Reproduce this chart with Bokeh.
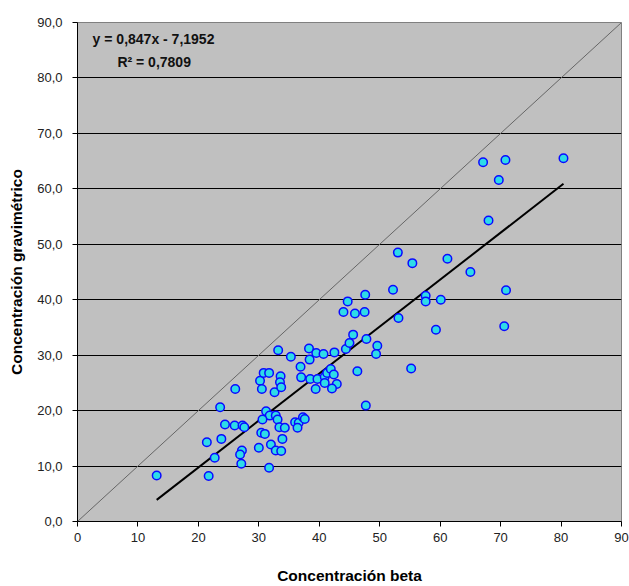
from bokeh.plotting import figure
from bokeh.models import Range1d, Label, CustomJSTickFormatter, FixedTicker, ColumnDataSource
from bokeh.embed import file_html
from bokeh.resources import INLINE

beta = [13.1, 21.7, 21.4, 22.7, 23.6, 23.8, 24.4, 26.1, 26.0, 27.3, 27.6, 27.2, 26.9, 27.1,
        30.0, 30.2, 30.5, 30.8, 31.7, 31.2, 31.8, 30.6, 30.4, 31.0, 31.7, 32.0, 32.6, 32.8,
        33.1, 32.8, 33.7, 33.2, 33.6, 33.5, 33.7, 33.4, 34.3, 33.9, 35.3, 36.0, 36.6, 36.4,
        37.3, 37.6, 36.9, 37.0, 38.3, 38.4, 38.5, 39.5, 39.7, 39.4, 40.7, 40.9, 40.9, 41.3,
        41.9, 42.4, 42.5, 42.9, 42.1, 44.4, 45.0, 45.6, 44.0, 45.9, 47.5, 44.7, 47.6, 47.8,
        49.6, 49.4, 46.3, 47.7, 52.2, 53.0, 55.4, 53.1, 55.2, 57.6, 57.6, 60.1, 59.3, 61.2,
        65.0, 68.0, 69.7, 67.1, 70.8, 80.4, 70.9, 70.6]
grav = [8.3, 8.2, 14.3, 11.5, 20.6, 14.9, 17.5, 23.9, 17.3, 17.3, 17.0, 12.8, 12.1, 10.4,
        13.3, 25.4, 23.9, 26.8, 26.8, 19.9, 19.1, 18.4, 16.0, 15.8, 9.7, 13.9, 23.3, 19.1,
        18.4, 12.8, 12.7, 30.9, 26.2, 25.1, 24.2, 17.0, 16.9, 14.9, 29.7, 17.9, 17.8, 16.9,
        18.8, 18.5, 27.9, 26.0, 31.2, 29.2, 25.7, 30.4, 25.7, 23.9, 30.2, 26.1, 25.0, 26.8,
        27.5, 26.5, 30.5, 24.8, 24.0, 31.1, 32.2, 33.7, 37.8, 37.5, 37.8, 39.7, 40.9, 32.9,
        31.7, 30.2, 27.1, 20.9, 41.8, 48.5, 46.6, 36.7, 27.6, 40.7, 39.7, 40.0, 34.6, 47.4,
        45.0, 54.3, 61.6, 64.8, 65.2, 65.5, 41.7, 35.2]

slope = 0.847
intercept = -7.1952
eq_text = "y = 0,847x - 7,1952"
r2_text = "R² = 0,7809"
ticks = [0, 10, 20, 30, 40, 50, 60, 70, 80, 90]

p = figure(width=629, height=586, output_backend="svg", toolbar_location=None,
           x_range=Range1d(0, 90), y_range=Range1d(0, 90),
           min_border_left=77, min_border_right=8, min_border_top=22, min_border_bottom=64)
p.background_fill_color = "#C0C0C0"
p.border_fill_color = "white"
p.outline_line_color = "#808080"
p.outline_line_width = 1

p.xgrid.visible = False
p.ygrid.grid_line_color = "black"
p.ygrid.grid_line_width = 1
p.ygrid.ticker = FixedTicker(ticks=ticks)

for ax in (p.xaxis[0], p.yaxis[0]):
    ax.ticker = FixedTicker(ticks=ticks)
    ax.axis_line_color = "black"
    ax.major_tick_line_color = "black"
    ax.major_tick_out = 5
    ax.major_tick_in = 0
    ax.minor_tick_line_color = None
    ax.major_label_text_font = "Liberation Sans"
    ax.major_label_text_font_size = "13px"
    ax.major_label_text_color = "#222222"
    ax.axis_label_text_font = "Liberation Sans"
    ax.axis_label_text_font_size = "15.5px"
    ax.axis_label_text_font_style = "bold"
    ax.axis_label_text_color = "black"

p.xaxis.axis_label = "Concentración beta"
p.yaxis.axis_label = "Concentración gravimétrico"
p.xaxis.major_label_standoff = 6
p.xaxis.axis_label_standoff = 22
p.yaxis.major_label_standoff = 10
p.yaxis.axis_label_standoff = 9
p.yaxis.formatter = CustomJSTickFormatter(code="return tick.toFixed(1).replace('.', ',');")

# 1:1 line
p.line([ticks[0], ticks[-1]], [ticks[0], ticks[-1]], line_color="#666666", line_width=1)

# regression line over data range
xmin, xmax = min(beta), max(beta)
p.line([xmin, xmax], [slope * xmin + intercept, slope * xmax + intercept],
       line_color="black", line_width=2)

src = ColumnDataSource(dict(x=beta, y=grav))
p.scatter("x", "y", source=src, size=8.5, fill_color="#2EDBE8", line_color="#0A0AFF",
          line_width=1.5)

p.add_layout(Label(x=2.5, y=87.1, text=eq_text, text_font="Liberation Sans",
                   text_font_size="14px", text_font_style="bold", text_color="#111111",
                   text_baseline="middle"))
p.add_layout(Label(x=6.6, y=82.8, text=r2_text, text_font="Liberation Sans",
                   text_font_size="14px", text_font_style="bold", text_color="#111111",
                   text_baseline="middle"))

open("out.html", "w").write(file_html(p, INLINE))
